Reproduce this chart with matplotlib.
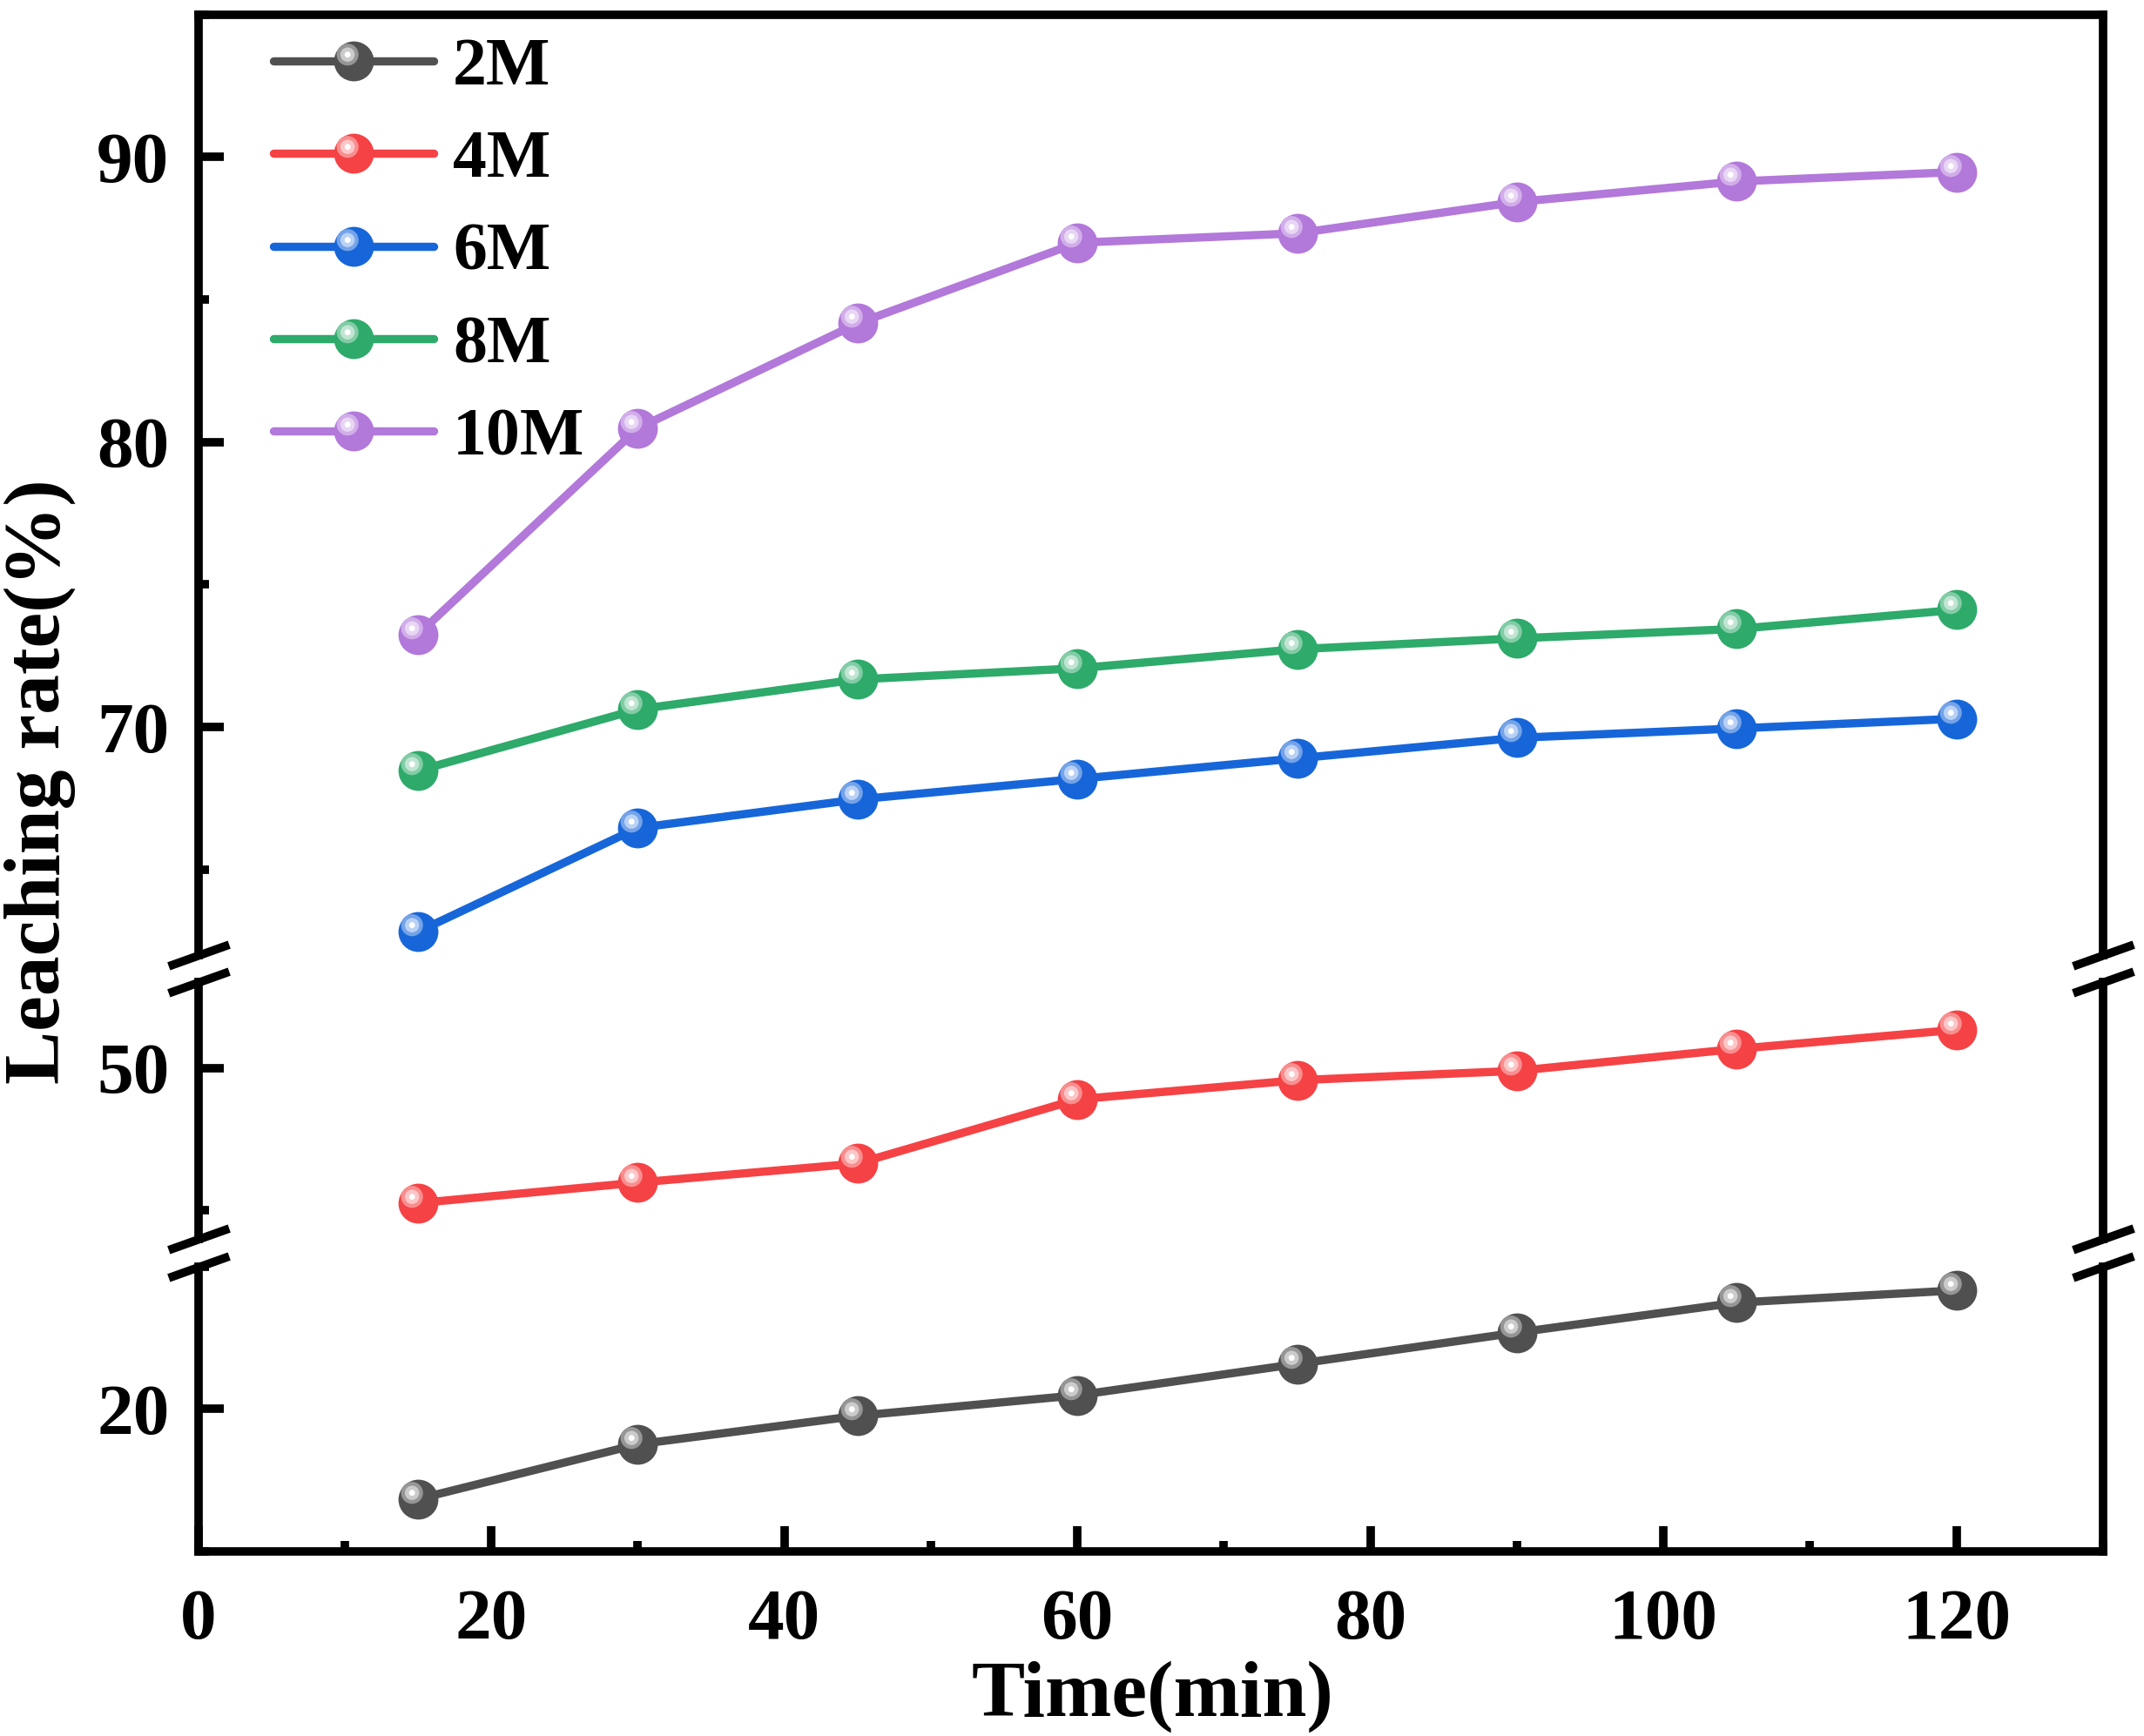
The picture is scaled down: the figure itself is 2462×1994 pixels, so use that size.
import matplotlib
matplotlib.use("Agg")
import numpy as np
import matplotlib.pyplot as plt
from matplotlib.path import Path
from matplotlib.markers import MarkerStyle
from matplotlib.ticker import MultipleLocator
from matplotlib.legend_handler import HandlerTuple
from matplotlib.colors import to_rgb

plt.rcParams['font.family'] = ['Liberation Serif', 'DejaVu Serif']
plt.rcParams['font.weight'] = 'bold'

# =====================================================
# DATA
# =====================================================
time_min = [15, 30, 45, 60, 75, 90, 105, 120]
series_names = ['2M', '4M', '6M', '8M', '10M']
rate_2m = [16.84, 18.76, 19.76, 20.48, 21.58, 22.68, 23.73, 24.16]
rate_4m = [45.26, 45.98, 46.65, 48.90, 49.57, 49.90, 50.67, 51.34]
rate_6m = [62.82, 66.46, 67.46, 68.18, 68.90, 69.62, 69.95, 70.29]
rate_8m = [68.47, 70.62, 71.67, 72.06, 72.73, 73.11, 73.44, 74.11]
rate_10m = [73.25, 80.48, 84.16, 86.99, 87.32, 88.42, 89.14, 89.47]
series_colors = ['#505050', '#F54245', '#1766D9', '#2EAA6A', '#B278DA']

# y segments of the broken axis, bottom -> top
seg_lims = [(15, 25), (44, 53), (62, 95)]
x_lim = (0, 130)

# =====================================================
# STYLE
# =====================================================
LW = 6.8          # line width (pt)
MS = 33           # marker diameter (pt)
SPINE_W = 7.0
FS_TICK = 60
FS_LEG = 56
FS_LABEL = 66

# axes box in figure fraction
L, R = 0.0925, 0.9809
B, T = 0.1063, 0.9917
GAP = 0.0158


def mix_white(c, f):
    c = np.array(to_rgb(c))
    return tuple(c + (1 - c) * f)


def offset_circle(cx, cy, r):
    # marker path gets normalised by matplotlib -> return marker and its size factor
    m = max(abs(cx) + r, abs(cy) + r)
    return MarkerStyle(Path.circle((cx, cy), r)), m


# shiny "sphere" highlight layers: (radius, white fraction)
HL_CENTER = (-0.32, 0.34)
HL_LAYERS = [(0.55, 0.4), (0.36, 0.7), (0.15, 1.0)]

fig = plt.figure(figsize=(24.62, 19.94), dpi=100)

span = sum(hi - lo for lo, hi in seg_lims)
unit = (T - B - GAP * (len(seg_lims) - 1)) / span

axes = []
y0 = B
for lo, hi in seg_lims:
    h = (hi - lo) * unit
    ax = fig.add_axes([L, y0, R - L, h], sharex=axes[0] if axes else None)
    axes.append(ax)
    y0 += h + GAP

all_series = [rate_2m, rate_4m, rate_6m, rate_8m, rate_10m]
legend_handles = []

for i, ax in enumerate(axes):
    lo, hi = seg_lims[i]
    for vals, col, name in zip(all_series, series_colors, series_names):
        main, = ax.plot(time_min, vals, color=col, lw=LW, marker='o', ms=MS,
                        mew=0, solid_capstyle='round', label=name)
        hls = []
        for r, f in HL_LAYERS:
            mk, m = offset_circle(HL_CENTER[0], HL_CENTER[1], r)
            hl, = ax.plot(time_min, vals, ls='none', marker=mk, ms=MS * m,
                          color=mix_white(col, f), mew=0)
            hls.append(hl)
        if i == len(axes) - 1:
            legend_handles.append(tuple([main] + hls))

    ax.set_ylim(lo, hi)
    ax.set_xlim(*x_lim)
    ax.yaxis.set_major_locator(MultipleLocator(10))
    ax.yaxis.set_minor_locator(MultipleLocator(5))
    ax.tick_params(axis='y', which='both', direction='in', right=False,
                   width=SPINE_W, labelsize=FS_TICK, pad=24)
    ax.tick_params(axis='y', which='major', length=21)
    ax.tick_params(axis='y', which='minor', length=8.5)

    for s in ('left', 'right'):
        ax.spines[s].set_linewidth(SPINE_W)
    ax.spines['top'].set_visible(i == len(axes) - 1)
    ax.spines['bottom'].set_visible(i == 0)
    ax.spines['top'].set_linewidth(SPINE_W)
    ax.spines['bottom'].set_linewidth(SPINE_W)

    if i == 0:
        ax.xaxis.set_major_locator(MultipleLocator(20))
        ax.xaxis.set_minor_locator(MultipleLocator(10))
        ax.tick_params(axis='x', which='both', direction='in', top=False,
                       width=SPINE_W, labelsize=FS_TICK, pad=31)
        ax.tick_params(axis='x', which='major', length=21)
        ax.tick_params(axis='x', which='minor', length=8.5)
    else:
        ax.tick_params(axis='x', which='both', bottom=False, top=False,
                       labelbottom=False)

    # break marks on both spines
    brk = dict(marker=[(-1, -0.357), (1, 0.357)], markersize=50, linestyle='none',
               color='k', mec='k', mew=SPINE_W, clip_on=False)
    if i > 0:
        ax.plot([0, 1], [0, 0], transform=ax.transAxes, **brk)
    if i < len(axes) - 1:
        ax.plot([0, 1], [1, 1], transform=ax.transAxes, **brk)

top_ax = axes[-1]
top_ax.legend(legend_handles, series_names, handler_map={tuple: HandlerTuple(ndivide=1, pad=0)},
              loc='upper left', bbox_to_anchor=(200 / 1568, 1 - 27 / 1270),
              bbox_transform=fig.transFigure, frameon=False, borderpad=0,
              borderaxespad=0, fontsize=FS_LEG, handlelength=2.37,
              handletextpad=0.28, labelspacing=0.45)

fig.text(0.5376, 1 - 1255 / 1270, 'Time(min)', ha='center', va='baseline',
         fontsize=FS_LABEL, fontweight='bold')
fig.text(29 / 1568, 1 - 572 / 1270, 'Leaching rate(%)', ha='center', va='center',
         rotation=90, fontsize=FS_LABEL, fontweight='bold')

fig.savefig('out.png', dpi=100)
